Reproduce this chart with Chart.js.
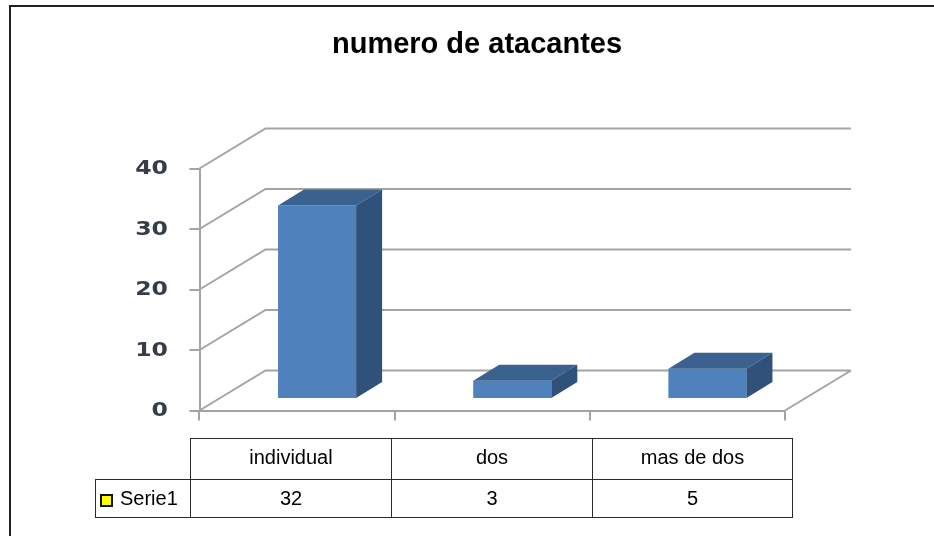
<!DOCTYPE html>
<html><head><meta charset="utf-8">
<style>
html,body{margin:0;padding:0;background:#fff;overflow:hidden}
#wrap{position:relative;width:934px;height:536px;overflow:hidden}
#frame{position:absolute;left:8.5px;top:5px;width:960px;height:580px;border:2px solid #222;box-sizing:border-box}
#c{position:absolute;left:0;top:0}
table{position:absolute;left:95px;top:438px;border-collapse:collapse;table-layout:fixed;width:697px;font:20px "Liberation Sans",Arial,sans-serif;color:#000}
td{border:1px solid #2a2a2a;text-align:center;padding:0;box-sizing:border-box;white-space:nowrap}
tr.h td{height:41px;padding-bottom:4px}
tr.d td{height:38px}
td.blank{border:none;border-bottom:1px solid #2a2a2a}
td.name{text-align:left;padding-left:4px}
.sw{display:inline-block;width:13px;height:13px;background:#ffff00;border:2px solid #111;box-sizing:border-box;position:relative;top:2px;margin-right:7px}
</style></head>
<body><div id="wrap"><div id="frame"></div><canvas id="c" width="934" height="536"></canvas><table id="t"></table></div>
<script src="https://cdn.jsdelivr.net/npm/chart.js@4"></script>
<script>
const titleText = "numero de atacantes";
const categories = ["individual", "dos", "mas de dos"];
const seriesName = "Serie1";
const values = [32, 3, 5];
const yTicks = [0, 10, 20, 30, 40];

const GRID = "#a4a4a4";
const FRONT = "#4f81bd", TOP = "#3b618f", SIDE = "#30527a";
const WALL = {dx: 66, dy: -40};   // back wall offset
const BAR_SHIFT = {dx: 20, dy: -11.5}; // bars stand mid-way on the floor
const BAR_DEPTH = {dx: 26, dy: -16};
const LABEL_STRETCH = 1.18;

const wall3d = {
  id: "wall3d",
  beforeDraw(chart) { chart.ctx.filter = "blur(0.45px)"; },
  beforeDatasetsDraw(chart) {
    const {ctx, scales: {x, y}} = chart;
    ctx.save();
    ctx.strokeStyle = GRID; ctx.lineWidth = 2;
    ctx.beginPath();
    yTicks.forEach(v => {
      const py = y.getPixelForValue(v);
      ctx.moveTo(x.left, py);
      ctx.lineTo(x.left + WALL.dx, py + WALL.dy);
      ctx.lineTo(x.right + WALL.dx, py + WALL.dy);
    });
    const py0 = y.getPixelForValue(0);
    ctx.moveTo(x.right, py0);
    ctx.lineTo(x.right + WALL.dx, py0 + WALL.dy);
    ctx.stroke();
    ctx.restore();
    ctx.save();
    ctx.translate(BAR_SHIFT.dx, BAR_SHIFT.dy);
  },
  afterDatasetsDraw(chart) {
    const {ctx} = chart;
    chart.getDatasetMeta(0).data.forEach(bar => {
      const p = bar.getProps(["x", "y", "base", "width"], true);
      const l = p.x - p.width / 2, r = p.x + p.width / 2;
      const d = BAR_DEPTH;
      ctx.fillStyle = TOP;
      ctx.beginPath();
      ctx.moveTo(l, p.y); ctx.lineTo(l + d.dx, p.y + d.dy);
      ctx.lineTo(r + d.dx, p.y + d.dy); ctx.lineTo(r, p.y);
      ctx.closePath(); ctx.fill();
      ctx.fillStyle = SIDE;
      ctx.beginPath();
      ctx.moveTo(r, p.y); ctx.lineTo(r + d.dx, p.y + d.dy);
      ctx.lineTo(r + d.dx, p.base + d.dy); ctx.lineTo(r, p.base);
      ctx.closePath(); ctx.fill();
    });
    ctx.restore();
  },
  afterDraw(chart) {
    const {ctx, scales: {y}} = chart;
    ctx.save();
    ctx.font = 'bold 20px "DejaVu Sans"';
    ctx.fillStyle = "#363c4a";
    ctx.textAlign = "right"; ctx.textBaseline = "middle";
    y.ticks.forEach(tick => {
      ctx.save();
      ctx.translate(168, y.getPixelForValue(tick.value) + 0.5);
      ctx.scale(LABEL_STRETCH, 1);
      ctx.fillText(String(tick.value), 0, 0);
      ctx.restore();
    });
    ctx.restore();
    ctx.filter = "none";
  }
};

new Chart(document.getElementById("c"), {
  type: "bar",
  data: {labels: categories, datasets: [{label: seriesName, data: values, backgroundColor: FRONT,
    categoryPercentage: 1, barPercentage: 0.4}]},
  plugins: [wall3d],
  options: {
    responsive: false, animation: false,
    layout: {padding: {left: 169, right: 149, top: 0, bottom: 115.5}},
    plugins: {
      legend: {display: false}, tooltip: {enabled: false},
      title: {display: true, text: titleText, color: "#000",
        font: {family: '"Liberation Sans"', size: 29, weight: "bold"},
        padding: {top: 28, bottom: 105.7}}
    },
    scales: {
      x: {
        grid: {display: true, drawOnChartArea: false, drawTicks: true, tickLength: 10, color: GRID, lineWidth: 2},
        border: {display: true, color: GRID, width: 2},
        ticks: {display: false}
      },
      y: {
        min: 0, max: 40,
        afterFit(s) { s.width = 30.5; },
        grid: {display: true, drawOnChartArea: false, drawTicks: true, tickLength: 10, color: GRID, lineWidth: 2},
        border: {display: true, color: GRID, width: 2},
        afterBuildTicks(s) { s.ticks = yTicks.map(v => ({value: v})); },
        ticks: {display: false}
      }
    }
  }
});

const t = document.getElementById("t");
t.innerHTML =
  '<colgroup><col style="width:95px"><col style="width:201px"><col style="width:201px"><col style="width:200px"></colgroup>' +
  '<tr class="h"><td class="blank"></td>' + categories.map(c => "<td>" + c + "</td>").join("") + "</tr>" +
  '<tr class="d"><td class="name"><span class="sw"></span>' + seriesName + "</td>" + values.map(v => "<td>" + v + "</td>").join("") + "</tr>";
</script></body></html>
